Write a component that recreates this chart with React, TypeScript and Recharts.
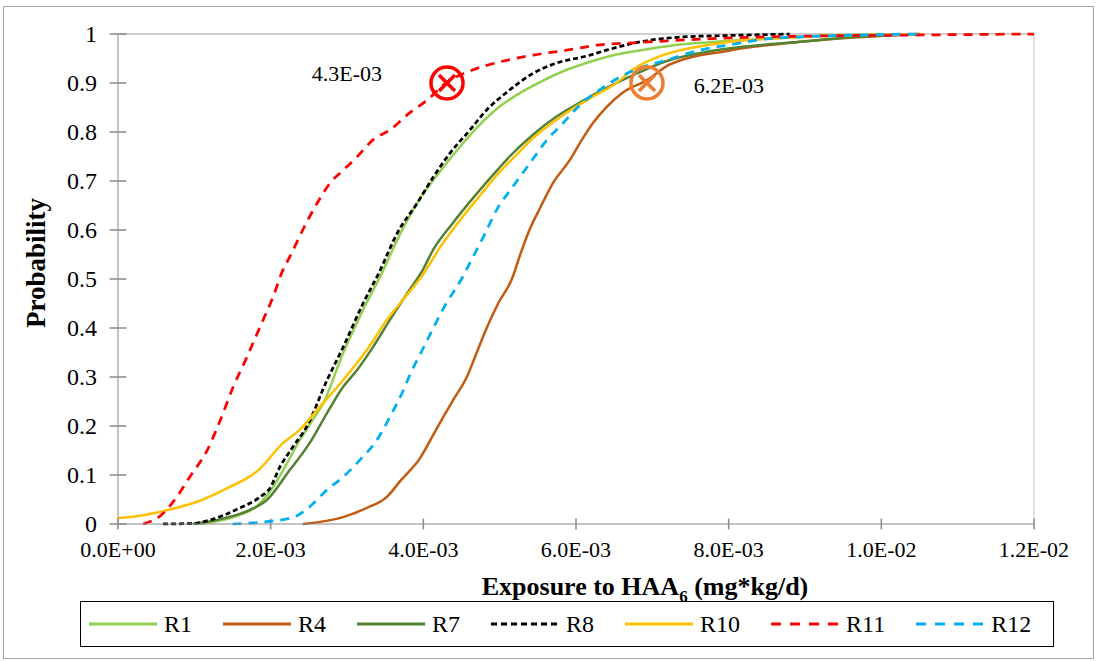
import React from 'react';
import { LineChart, Line, XAxis, YAxis, ReferenceLine, ReferenceDot } from 'recharts';

// exposure values are in units of 1E-03 mg*kg/d, paired with cumulative probability
const R1: [number, number][] = [
  [1.07, 0], [1.59, 0.018], [1.81, 0.035], [2.02, 0.073], [2.2, 0.12], [2.38, 0.171], [2.55, 0.212],
  [2.69, 0.247], [2.95, 0.349], [3.21, 0.437], [3.45, 0.51], [3.69, 0.59], [3.96, 0.665], [4.22, 0.72],
  [4.48, 0.77], [4.74, 0.815], [5.0, 0.852], [5.27, 0.88], [5.53, 0.902], [5.88, 0.927], [6.22, 0.945],
  [6.53, 0.958], [6.97, 0.97], [7.4, 0.979], [8.02, 0.986], [9.0, 0.995], [10.0, 1],
];
const R4: [number, number][] = [
  [2.42, 0], [2.95, 0.014], [3.26, 0.033], [3.52, 0.055], [3.71, 0.09], [3.96, 0.135], [4.13, 0.182],
  [4.26, 0.218], [4.39, 0.253], [4.57, 0.3], [4.7, 0.35], [4.83, 0.4], [4.98, 0.45], [5.16, 0.5],
  [5.27, 0.55], [5.39, 0.6], [5.53, 0.645], [5.7, 0.696], [5.92, 0.743], [6.08, 0.785], [6.22, 0.818],
  [6.4, 0.851], [6.61, 0.88], [6.93, 0.906], [7.23, 0.938], [8.0, 0.966], [9.0, 0.985], [10.5, 1],
];
const R7: [number, number][] = [
  [0.98, 0], [1.4, 0.012], [1.73, 0.029], [1.95, 0.049], [2.25, 0.11], [2.51, 0.165], [2.74, 0.227],
  [2.95, 0.28], [3.13, 0.314], [3.34, 0.361], [3.56, 0.416], [3.82, 0.478], [3.98, 0.515], [4.13, 0.56],
  [4.39, 0.615], [4.65, 0.665], [4.91, 0.712], [5.13, 0.75], [5.44, 0.795], [5.75, 0.832], [6.05, 0.86],
  [6.4, 0.89], [6.75, 0.916], [7.19, 0.945], [7.62, 0.961], [8.02, 0.971], [8.93, 0.984], [9.47, 0.992], [10.5, 1],
];
const R8: [number, number][] = [
  [0.59, 0], [0.98, 0.001], [1.2, 0.008], [1.6, 0.033], [1.86, 0.055], [1.99, 0.073], [2.12, 0.116],
  [2.29, 0.157], [2.47, 0.198], [2.74, 0.294], [2.95, 0.361], [3.21, 0.45], [3.41, 0.51], [3.67, 0.597],
  [3.92, 0.655], [4.13, 0.708], [4.35, 0.757], [4.61, 0.804], [4.83, 0.845], [5.1, 0.882], [5.44, 0.92],
  [5.75, 0.941], [6.14, 0.955], [6.4, 0.967], [6.84, 0.984], [7.4, 0.994], [8.02, 0.997], [8.8, 1],
];
const R10: [number, number][] = [
  [0, 0.012], [0.33, 0.018], [0.72, 0.031], [1.1, 0.049], [1.43, 0.073], [1.84, 0.11], [2.16, 0.165],
  [2.38, 0.192], [2.61, 0.233], [2.95, 0.294], [3.26, 0.355], [3.52, 0.416], [3.73, 0.457], [4.0, 0.51],
  [4.22, 0.565], [4.48, 0.62], [4.74, 0.67], [4.98, 0.715], [5.23, 0.755], [5.44, 0.788], [5.7, 0.82],
  [5.96, 0.848], [6.22, 0.872], [6.53, 0.9], [6.75, 0.928], [7.1, 0.955], [7.4, 0.968], [7.71, 0.977],
  [8.02, 0.984], [9.0, 0.994], [10.5, 1],
];
const R11: [number, number][] = [
  [0.33, 0], [0.55, 0.016], [0.77, 0.055], [0.94, 0.096], [1.17, 0.151], [1.34, 0.212], [1.51, 0.28],
  [1.69, 0.341], [1.86, 0.402], [2.03, 0.463], [2.16, 0.518], [2.25, 0.545], [2.42, 0.6], [2.61, 0.655],
  [2.78, 0.696], [2.95, 0.722], [3.13, 0.749], [3.34, 0.784], [3.56, 0.804], [3.82, 0.839], [4.05, 0.865],
  [4.31, 0.902], [4.57, 0.922], [5.0, 0.943], [5.44, 0.957], [5.88, 0.967], [6.31, 0.978], [6.75, 0.982],
  [7.19, 0.986], [8.02, 0.992], [9.2, 0.996], [10.5, 0.998], [12.0, 1],
];
const R12: [number, number][] = [
  [1.5, 0], [1.82, 0.003], [2.3, 0.014], [2.51, 0.035], [2.74, 0.07], [2.95, 0.096], [3.17, 0.131],
  [3.39, 0.171], [3.56, 0.218], [3.73, 0.27], [3.84, 0.31], [3.97, 0.35], [4.13, 0.4], [4.3, 0.45],
  [4.5, 0.5], [4.65, 0.545], [4.8, 0.59], [4.96, 0.641], [5.17, 0.688], [5.4, 0.737], [5.62, 0.784],
  [5.83, 0.818], [6.05, 0.855], [6.31, 0.886], [6.57, 0.912], [6.88, 0.933], [7.19, 0.947], [7.62, 0.967],
  [8.02, 0.978], [8.5, 0.99], [9.5, 0.997], [10.5, 1],
];

const xTicks = [0, 0.002, 0.004, 0.006, 0.008, 0.01, 0.012];
const yTicks = [0, 0.1, 0.2, 0.3, 0.4, 0.5, 0.6, 0.7, 0.8, 0.9, 1];

// marked 90th percentile points and their labels
const markR11 = { x: 0.00431, y: 0.9, label: '4.3E-03' };
const markR4 = { x: 0.00693, y: 0.9, label: '6.2E-03' };

const series = [
  { name: 'R1', data: R1, color: '#92D050', dash: undefined, legendDash: undefined, width: 2.5 },
  { name: 'R4', data: R4, color: '#C55A11', dash: undefined, legendDash: undefined, width: 2.5 },
  { name: 'R7', data: R7, color: '#548235', dash: undefined, legendDash: undefined, width: 2.5 },
  { name: 'R8', data: R8, color: '#000000', dash: '5 3', legendDash: '6 4', width: 2.75 },
  { name: 'R10', data: R10, color: '#FFC000', dash: undefined, legendDash: undefined, width: 2.5 },
  { name: 'R11', data: R11, color: '#FF0000', dash: '9 7', legendDash: '10 9', width: 2.75 },
  { name: 'R12', data: R12, color: '#00B0F0', dash: '9 7', legendDash: '10 9', width: 2.75 },
];

const serif = 'Liberation Serif, Times New Roman, serif';
const axisGray = '#898989';

const toPoints = (arr: [number, number][]) => arr.map(([x, p]) => ({ x: x * 1e-3, p }));

const sci = (v: number) => {
  if (v === 0) return '0.0E+00';
  const e = Math.floor(Math.log10(Math.abs(v)) + 1e-9);
  const m = v / Math.pow(10, e);
  return `${m.toFixed(1)}E${e < 0 ? '-' : '+'}${String(Math.abs(e)).padStart(2, '0')}`;
};

const fmtProb = (v: number) => (v === 0 ? '0' : v === 1 ? '1' : v.toFixed(1));

const XTick = (props: any) => (
  <text x={props.x} y={props.y} dy="0.72em" textAnchor="middle" fill="#000"
    style={{ fontFamily: serif, fontSize: 22 }}>{sci(props.payload.value)}</text>
);

const YTick = (props: any) => (
  <text x={props.x} y={props.y} dy="0.35em" textAnchor="end" fill="#000"
    style={{ fontFamily: serif, fontSize: 24 }}>{fmtProb(props.payload.value)}</text>
);

const CircleX = (color: string) => (props: any) => {
  const { cx, cy } = props;
  const r = 16;
  const d = 8;
  return (
    <g>
      <circle cx={cx} cy={cy} r={r} fill="none" stroke={color} strokeWidth={3.5} />
      <line x1={cx - d} y1={cy - d} x2={cx + d} y2={cy + d} stroke={color} strokeWidth={3.5} />
      <line x1={cx - d} y1={cy + d} x2={cx + d} y2={cy - d} stroke={color} strokeWidth={3.5} />
    </g>
  );
};

const AnnoText = (text: string, dx: number, dy: number) => (props: any) => (
  <text x={props.cx + dx} y={props.cy + dy} dy="0.35em" textAnchor="middle" fill="#000"
    style={{ fontFamily: serif, fontSize: 22 }}>{text}</text>
);

export default function App() {
  return (
    <div style={{ position: 'absolute', left: 0, top: 0, width: 1096, height: 661, background: '#fff', fontFamily: serif }}>
      <div style={{ position: 'absolute', left: 3, top: 6, width: 1089, height: 651, border: '1px solid #a6a6a6' }} />
      <div style={{ position: 'absolute', left: 0, top: 0 }}>
        <LineChart width={1096} height={661} margin={{ top: 34, right: 62, left: 18, bottom: 97 }}>
          <XAxis dataKey="x" type="number" domain={[0, 0.012]} ticks={xTicks}
            height={40} stroke={axisGray} tickLine={false} tickSize={6} tickMargin={11}
            tick={<XTick />} allowDataOverflow />
          <YAxis type="number" domain={[0, 1]} ticks={yTicks}
            width={100} stroke={axisGray} tickLine={false} tickSize={6} tickMargin={15}
            tick={<YTick />} />
          <ReferenceLine y={1} stroke="#BFBFBF" strokeWidth={1.5} />
          <ReferenceLine x={0.012} stroke="#D9D9D9" strokeWidth={1.5} />
          {xTicks.map((t) => (
            <ReferenceLine key={'xt' + t} ifOverflow="visible" stroke={axisGray} strokeWidth={1.5}
              segment={[{ x: t, y: -0.011 }, { x: t, y: 0.011 }]} />
          ))}
          {yTicks.map((t) => (
            <ReferenceLine key={'yt' + t} ifOverflow="visible" stroke={axisGray} strokeWidth={1.5}
              segment={[{ x: -0.00011, y: t }, { x: 0.00011, y: t }]} />
          ))}
          {series.map((s) => (
            <Line key={s.name} data={toPoints(s.data)} dataKey="p" name={s.name} type="monotone"
              stroke={s.color} strokeWidth={s.width} strokeDasharray={s.dash}
              dot={false} activeDot={false} isAnimationActive={false} />
          ))}
          <ReferenceDot x={markR11.x} y={markR11.y} ifOverflow="visible" shape={CircleX('#FF0000')} />
          <ReferenceDot x={markR4.x} y={markR4.y} ifOverflow="visible" shape={CircleX('#ED7D31')} />
          <ReferenceDot x={markR11.x} y={markR11.y} ifOverflow="visible" shape={AnnoText(markR11.label, -100, -10)} />
          <ReferenceDot x={markR4.x} y={markR4.y} ifOverflow="visible" shape={AnnoText(markR4.label, 82, 2)} />
        </LineChart>
      </div>

      <div style={{
        position: 'absolute', left: 36 - 100, top: 263 - 15, width: 200, height: 30, lineHeight: '30px',
        textAlign: 'center', fontWeight: 'bold', fontSize: 27, whiteSpace: 'nowrap',
        transform: 'rotate(-90deg)',
      }}>Probability</div>

      <div style={{
        position: 'absolute', left: 445, top: 574, width: 400, textAlign: 'center', whiteSpace: 'nowrap',
        fontWeight: 'bold', fontSize: 26, lineHeight: '26px',
      }}>
        Exposure to HAA<span style={{ fontSize: 17, position: 'relative', top: 7 }}>6</span> (mg*kg/d)
      </div>

      <div style={{
        position: 'absolute', left: 80, top: 601, width: 974, height: 46, border: '1.5px solid #000',
        boxSizing: 'border-box', display: 'flex', alignItems: 'center', paddingLeft: 8,
        fontSize: 24,
      }}>
        {series.map((s) => (
          <div key={s.name} style={{ display: 'flex', alignItems: 'center', marginRight: 31 }}>
            <svg width={68} height={6} style={{ marginRight: 7 }}>
              <line x1={0} y1={3} x2={68} y2={3} stroke={s.color} strokeWidth={3} strokeDasharray={s.legendDash} />
            </svg>
            <span>{s.name}</span>
          </div>
        ))}
      </div>
    </div>
  );
}
